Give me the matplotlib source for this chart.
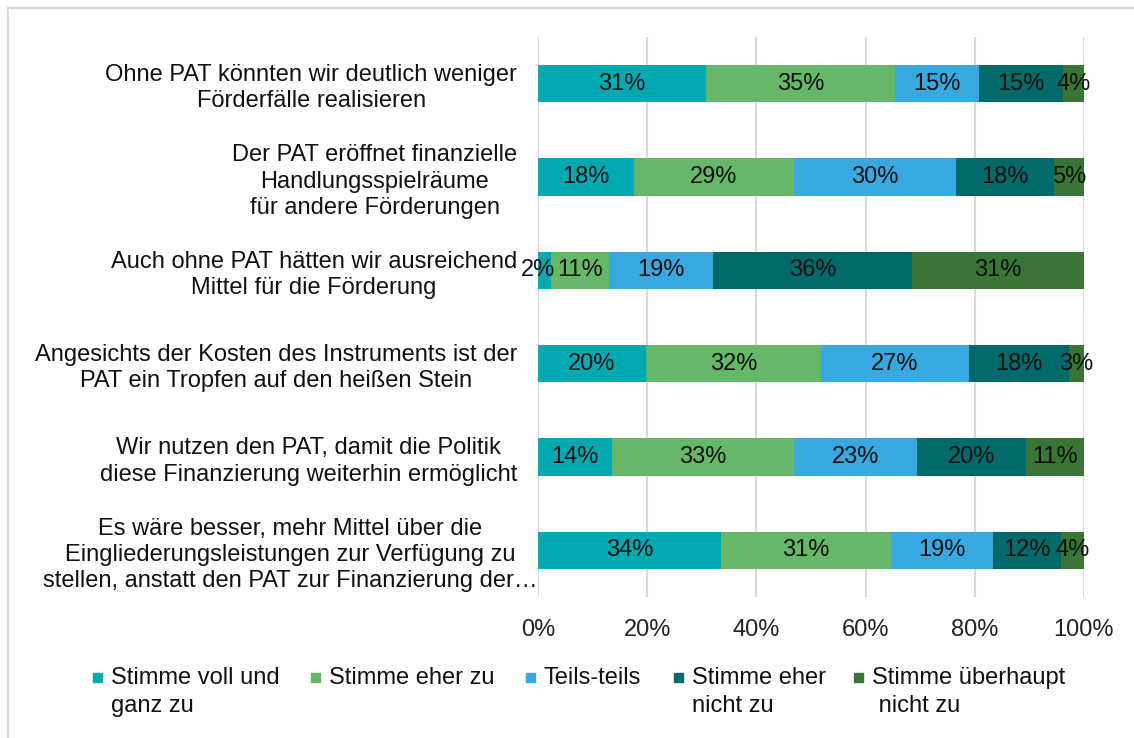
import matplotlib.pyplot as plt
import numpy as np
from matplotlib.patches import Rectangle
from matplotlib.lines import Line2D
from matplotlib.transforms import ScaledTranslation

plt.rcParams['font.family'] = ['Liberation Sans', 'DejaVu Sans']

# statements (top to bottom)
categories = [
    "Ohne PAT könnten wir deutlich weniger\nFörderfälle realisieren",
    "Der PAT eröffnet finanzielle\nHandlungsspielräume\nfür andere Förderungen",
    "Auch ohne PAT hätten wir ausreichend\nMittel für die Förderung",
    "Angesichts der Kosten des Instruments ist der\nPAT ein Tropfen auf den heißen Stein",
    "Wir nutzen den PAT, damit die Politik\ndiese Finanzierung weiterhin ermöglicht",
    "Es wäre besser, mehr Mittel über die\nEingliederungsleistungen zur Verfügung zu\nstellen, anstatt den PAT zur Finanzierung der…",
]

series_names = ["Stimme voll und\nganz zu", "Stimme eher zu", "Teils-teils",
                "Stimme eher\nnicht zu", "Stimme überhaupt\n nicht zu"]

# shares in % per statement, one list per answer
voll_zu = [30.8, 17.6, 2.3, 19.7, 13.6, 33.5]
eher_zu = [34.6, 29.3, 10.8, 32.2, 33.3, 31.2]
teils = [15.4, 29.7, 19.0, 27.0, 22.6, 18.6]
eher_nicht = [15.4, 17.9, 36.4, 18.3, 19.9, 12.5]
gar_nicht = [3.8, 5.5, 31.5, 2.8, 10.6, 4.2]

bar_labels = [
    ["31%", "18%", "2%", "20%", "14%", "34%"],
    ["35%", "29%", "11%", "32%", "33%", "31%"],
    ["15%", "30%", "19%", "27%", "23%", "19%"],
    ["15%", "18%", "36%", "18%", "20%", "12%"],
    ["4%", "5%", "31%", "3%", "11%", "4%"],
]

colors = ["#00A9B0", "#66B868", "#38A8E0", "#006A6A", "#3A7536"]

data = np.array([voll_zu, eher_zu, teils, eher_nicht, gar_nicht])

fs = 17

fig = plt.figure(figsize=(11.34, 7.38), dpi=100)
ax = fig.add_axes([0.4744, 0.1911, 0.4815, 0.7588])

y = np.arange(len(categories))
left = np.zeros(len(categories))
for i in range(len(series_names)):
    ax.barh(y, data[i], left=left, height=0.4, color=colors[i], zorder=2)
    for j in range(len(categories)):
        xc = left[j] + data[i][j] / 2
        # tiny first segment: label sits a bit to the left like in the original
        if data[i][j] < 5 and left[j] == 0:
            xc -= 1.2
        ax.text(xc, y[j], bar_labels[i][j],
                ha='center', va='center', fontsize=fs, color='#111111', zorder=3)
    left = left + data[i]

ax.set_xlim(0, 100)
ax.set_ylim(len(categories) - 0.5, -0.5)
ax.set_xticks(np.arange(0, 101, 20))
ax.set_xticklabels([f"{t}%" for t in range(0, 101, 20)], fontsize=fs, color='#222222')
ax.set_yticks(y)
ax.set_yticklabels(categories, fontsize=fs, color='#111111', multialignment='center',
                   linespacing=1.25)
ax.tick_params(axis='both', length=0)
ax.tick_params(axis='y', pad=15)
ax.tick_params(axis='x', pad=16)
ax.grid(axis='x', color='#D9D9D9', linewidth=1.5, zorder=0)
for s in ax.spines.values():
    s.set_visible(False)

# the long last label sticks out towards the axis in the original
last = ax.get_yticklabels()[-1]
last.set_transform(last.get_transform() + ScaledTranslation(20 / 100, 0, fig.dpi_scale_trans))

# frame lines (top and left only)
fig.add_artist(Line2D([8 / 1134, 1], [1 - 8 / 738, 1 - 8 / 738], color='#D9D9D9', linewidth=1.5))
fig.add_artist(Line2D([8 / 1134, 8 / 1134], [0, 1 - 8 / 738], color='#D9D9D9', linewidth=1.5))

# legend drawn by hand so the square sits at the first line
leg_x = [93, 311, 526, 674, 854]
for i, name in enumerate(series_names):
    fig.add_artist(Rectangle((leg_x[i] / 1134, 1 - 682 / 738), 9 / 1134, 9 / 738,
                             color=colors[i], transform=fig.transFigure))
    fig.text((leg_x[i] + 18) / 1134, 1 - 667 / 738, name, ha='left', va='top',
             fontsize=fs, color='#111111', linespacing=1.35)

fig.savefig("out.png", dpi=100)
